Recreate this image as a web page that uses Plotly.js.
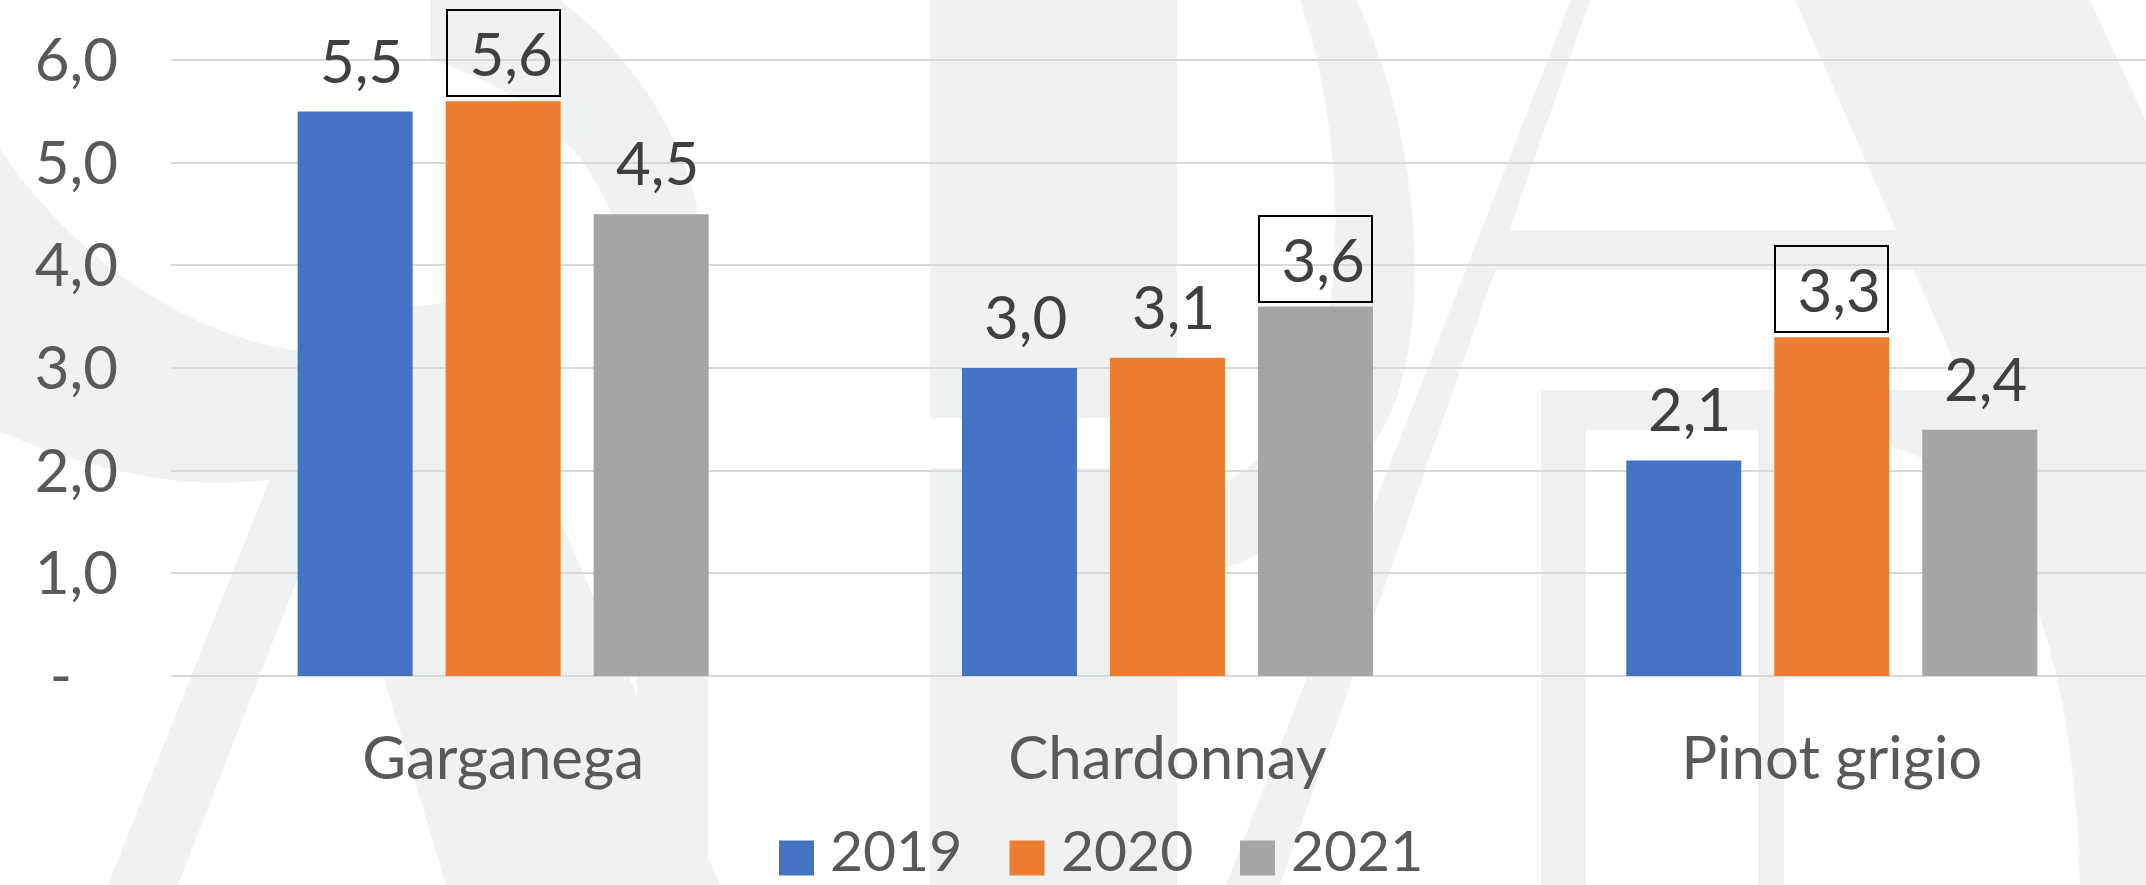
<!DOCTYPE html>
<html>
<head>
<meta charset="utf-8">
<script src="https://cdn.plot.ly/plotly-3.0.1.min.js"></script>
<style>
html,body{margin:0;padding:0;background:#ffffff;}
#chart{width:2146px;height:885px;}
</style>
</head>
<body>
<div id="chart"></div>
<script>
// ---------------- data ----------------
const categories = ['Garganega', 'Chardonnay', 'Pinot grigio'];
const seriesNames = ['2019', '2020', '2021'];
const values2019 = [5.5, 3.0, 2.1];
const values2020 = [5.6, 3.1, 3.3];
const values2021 = [4.5, 3.6, 2.4];
const boxed2019 = [false, false, false];
const boxed2020 = [true, false, true];
const boxed2021 = [false, true, false];
const yTickValues = [0, 1, 2, 3, 4, 5, 6];
const yTickLabels = ['-\u00a0\u00a0\u00a0', '1,0', '2,0', '3,0', '4,0', '5,0', '6,0'];

// ---------------- style / layout constants ----------------
const W = 2146, H = 885;
const ML = 171, MB = 209, MT = 0, MR = 0;
const PW = W - ML - MR, PH = H - MT - MB;
const colors = ['#4472c4', '#ed7d31', '#a5a5a5'];
const FONT = 'Lato, "Open Sans", sans-serif';
const FS = 60;
const FS_LEG = 57;
const BARGAP = 0.3316, GROUPGAP = 0.223;
const xRange = [-0.5, 2.473];
const yRange = [0, 6.587];
const wm = '#eef2f3';

const seriesValues = [values2019, values2020, values2021];
const seriesBoxed = [boxed2019, boxed2020, boxed2021];

const fmt = v => v.toFixed(1).replace('.', ',');

// traces
const traces = seriesNames.map((name, k) => ({
  type: 'bar',
  name: name,
  x: categories,
  y: seriesValues[k],
  marker: {color: colors[k], line: {width: 0}},
  showlegend: false,
  hoverinfo: 'x+y+name'
}));

// data labels
const slot = (1 - BARGAP) / 3;
const annotations = [];
seriesValues.forEach((vals, k) => {
  vals.forEach((v, i) => {
    const boxed = seriesBoxed[k][i];
    const a = {
      xref: 'x', yref: 'y',
      x: i + (k - 1) * slot, y: v,
      xanchor: 'center', yanchor: 'bottom',
      showarrow: false,
      font: {family: FONT, size: FS, color: '#404040'}
    };
    if (boxed) {
      a.text = '\u00a0' + fmt(v);
      a.bordercolor = '#000000';
      a.borderwidth = 2;
      a.borderpad = 2;
      a.width = 107;
      a.height = 80;
      a.valign = 'middle';
      a.align = 'center';
      a.yshift = 4;
    } else {
      a.text = fmt(v);
      a.xshift = 6;
      a.yshift = 14;
    }
    annotations.push(a);
  });
});

// pixel -> paper helpers
const px = x => (x - ML) / PW;
const py = y => (MT + PH - y) / PH;
const pathPx = s => s.replace(/(-?\d+(?:\.\d+)?),(-?\d+(?:\.\d+)?)/g,
  (m, a, b) => px(parseFloat(a)).toFixed(5) + ',' + py(parseFloat(b)).toFixed(5));

// manual legend
const legendStart = 779, legendPitch = 230.5, sq = 35, legendCY = 858, textGap = 18, legendBottom = 884;
const shapes = [];
seriesNames.forEach((name, k) => {
  const x0 = legendStart + k * legendPitch;
  shapes.push({
    type: 'rect', xref: 'paper', yref: 'paper', layer: 'above',
    x0: px(x0), x1: px(x0 + sq), y0: py(legendCY - sq / 2), y1: py(legendCY + sq / 2),
    fillcolor: colors[k], line: {width: 0}
  });
  annotations.push({
    xref: 'paper', yref: 'paper', x: px(x0 + sq + textGap - 3), y: py(legendBottom),
    xanchor: 'left', yanchor: 'bottom', showarrow: false, text: name, borderpad: 0,
    font: {family: FONT, size: FS_LEG, color: '#595959'}
  });
});

// watermark (decorative background logo)
const wmPaths = [
  'M-5,141 C70,260 220,372 383,352 L460,318 L446,406 C400,450 300,490 191,482 C120,476 50,455 -5,429 Z',
  'M108,885 L178,885 L410,290 L345,290 Z',
  'M300,320 L470,300 L560,520 L720,885 L446,885 L383,675 Z',
  'M430,0 L560,0 C650,70 708,170 708,300 L708,885 L640,885 L631,300 C625,180 540,90 430,60 Z',
  'M930,0 L1177,0 L1177,418 L930,418 Z',
  'M930,468 L1177,468 L1177,885 L930,885 Z',
  'M1300,0 L1356,0 C1420,130 1435,330 1385,425 C1335,515 1260,568 1177,580 L1177,500 C1240,490 1300,430 1320,360 C1345,260 1340,120 1300,0 Z',
  'M1571,0 L1590,0 L1280,885 L1226,885 Z',
  'M1795,0 L2090,0 L2500,885 L2184,885 Z',
  'M1500,230 L1900,230 L1918,270 L1490,270 Z',
  'M1541,390 L1980,390 C2090,400 2146,440 2170,500 L2170,885 L2080,885 C2075,700 2040,560 1960,480 C1900,440 1840,430 1784,430 L1784,885 L1758,885 L1758,430 L1586,430 L1586,885 L1541,885 Z'
];
wmPaths.forEach(p => shapes.push({
  type: 'path', xref: 'paper', yref: 'paper', layer: 'below',
  path: pathPx(p), fillcolor: wm, line: {width: 0}
}));

const layout = {
  width: W, height: H,
  margin: {l: ML, r: MR, t: MT, b: MB, pad: 0},
  paper_bgcolor: '#ffffff',
  plot_bgcolor: 'rgba(0,0,0,0)',
  barmode: 'group',
  bargap: BARGAP,
  bargroupgap: GROUPGAP,
  showlegend: false,
  font: {family: FONT, size: FS, color: '#595959'},
  xaxis: {
    type: 'category',
    range: xRange,
    showgrid: false, zeroline: false, showline: false,
    ticks: '',
    ticklabelstandoff: 42,
    tickfont: {family: FONT, size: FS, color: '#595959'},
    fixedrange: true
  },
  yaxis: {
    range: yRange,
    tickmode: 'array',
    tickvals: yTickValues,
    ticktext: yTickLabels,
    showgrid: true, gridcolor: '#d9d9d9', gridwidth: 2,
    zeroline: true, zerolinecolor: '#d9d9d9', zerolinewidth: 2,
    showline: false, ticks: '',
    ticklabelstandoff: 52,
    tickfont: {family: FONT, size: FS, color: '#595959'},
    fixedrange: true
  },
  annotations: annotations,
  shapes: shapes
};

Plotly.newPlot('chart', traces, layout, {displayModeBar: false, staticPlot: true});
</script>
</body>
</html>
